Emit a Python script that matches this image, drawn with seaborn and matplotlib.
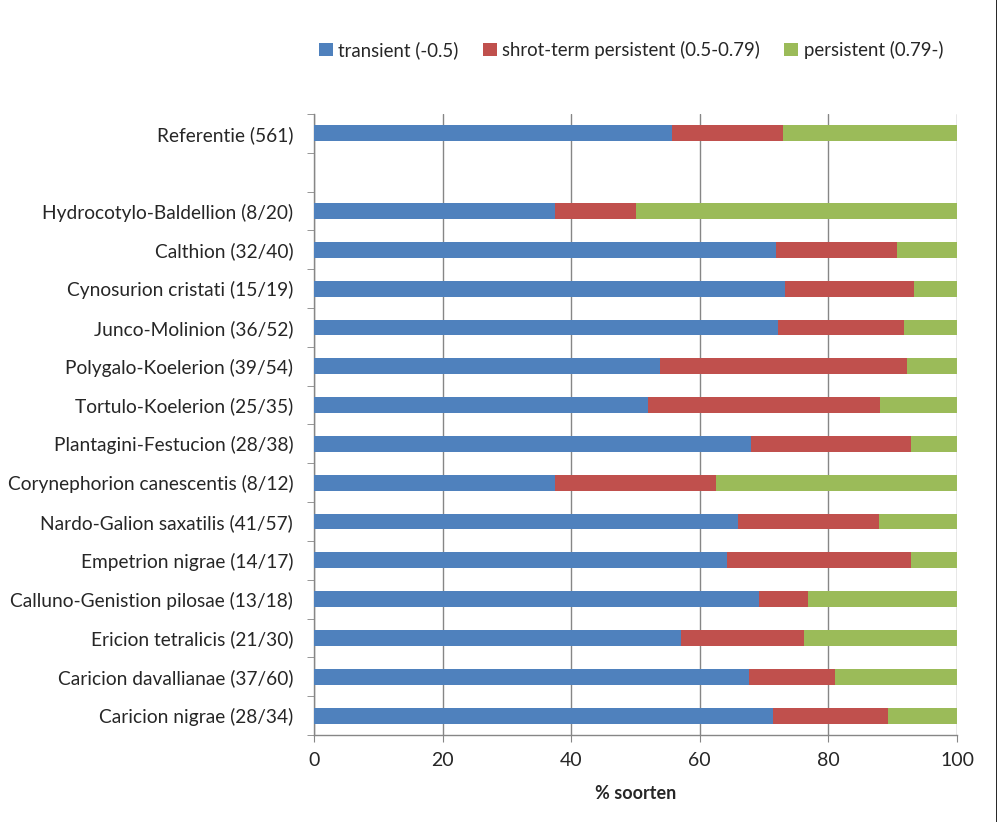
import numpy as np
import pandas as pd
import matplotlib
matplotlib.use("Agg")
import matplotlib.pyplot as plt
from matplotlib.lines import Line2D
from matplotlib.patches import Patch
import seaborn as sns

categories = [
    "Referentie (561)",
    "Hydrocotylo-Baldellion (8/20)",
    "Calthion (32/40)",
    "Cynosurion cristati (15/19)",
    "Junco-Molinion (36/52)",
    "Polygalo-Koelerion (39/54)",
    "Tortulo-Koelerion (25/35)",
    "Plantagini-Festucion (28/38)",
    "Corynephorion canescentis (8/12)",
    "Nardo-Galion saxatilis (41/57)",
    "Empetrion nigrae (14/17)",
    "Calluno-Genistion pilosae (13/18)",
    "Ericion tetralicis (21/30)",
    "Caricion davallianae (37/60)",
    "Caricion nigrae (28/34)",
]
transient = [55.7, 37.5, 71.9, 73.3, 72.2, 53.8, 52.0, 67.9, 37.5, 65.9, 64.3, 69.2, 57.1, 67.6, 71.4]
short_term = [17.3, 12.5, 18.7, 20.0, 19.5, 38.5, 36.0, 25.0, 25.0, 21.9, 28.6, 7.7, 19.1, 13.5, 17.9]
persistent = [27.0, 50.0, 9.4, 6.7, 8.3, 7.7, 12.0, 7.1, 37.5, 12.2, 7.1, 23.1, 23.8, 18.9, 10.7]

series_labels = ["transient (-0.5)", "shrot-term persistent (0.5-0.79)", "persistent (0.79-)"]
colors = ["#4F81BD", "#C0504D", "#9BBB59"]
xticks = [0, 20, 40, 60, 80, 100]
xlabel = "% soorten"

df = pd.DataFrame({"cat": categories, "t": transient, "s": short_term, "p": persistent})
df["c1"] = df["t"]
df["c2"] = df["t"] + df["s"]
df["c3"] = df["t"] + df["s"] + df["p"]

blank = " "
order = [categories[0], blank] + categories[1:]

sns.set_style("white")
plt.rcParams["font.family"] = ["Lato", "DejaVu Sans"]

fig = plt.figure(figsize=(9.97, 8.22), dpi=100)
ax = fig.add_axes([314 / 997, 1 - 735 / 822, (957 - 314) / 997, (735 - 114) / 822])

for col, colr in zip(["c3", "c2", "c1"], colors[::-1]):
    sns.barplot(data=df, x=col, y="cat", order=order, orient="h", color=colr,
                width=0.41, saturation=1, ax=ax, errorbar=None, zorder=3,
                linewidth=0)

ax.set_xlim(0, 100)
ax.set_ylim(len(order) - 0.5, -0.5)
ax.set_xticks(xticks)
ax.set_xticklabels([str(v) for v in xticks], fontsize=14)
ax.set_yticks(range(len(order)))
ax.set_yticklabels(order, fontsize=13.8)
ax.tick_params(axis="y", length=0, pad=15)
ax.set_yticks(np.arange(-0.5, len(order) + 0.5, 1), minor=True)
ax.tick_params(axis="y", which="minor", length=5, direction="out", color="#868686", left=True)
ax.tick_params(axis="x", length=5, direction="out", color="#868686", bottom=True, pad=7)
ax.grid(axis="x", color="#868686", linewidth=1, zorder=0)
ax.set_axisbelow(True)
for side in ["top", "right"]:
    ax.spines[side].set_visible(False)
for side in ["left", "bottom"]:
    ax.spines[side].set_color("#868686")
    ax.spines[side].set_linewidth(1)
ax.set_ylabel("")
ax.set_xlabel(xlabel, fontsize=13, fontweight="bold", labelpad=12)

handles = [Patch(facecolor=c, edgecolor="none") for c in colors]
fig.legend(handles, series_labels, loc="center", bbox_to_anchor=(631 / 997, 1 - 50 / 822),
           ncol=3, frameon=False, fontsize=13.4, handlelength=0.75, handleheight=0.75,
           handletextpad=0.3, columnspacing=1.3)

fig.add_artist(Line2D([996.5 / 997, 996.5 / 997], [0, 1], color="black", linewidth=1.2))

fig.savefig("out.png", dpi=100, facecolor="white")
